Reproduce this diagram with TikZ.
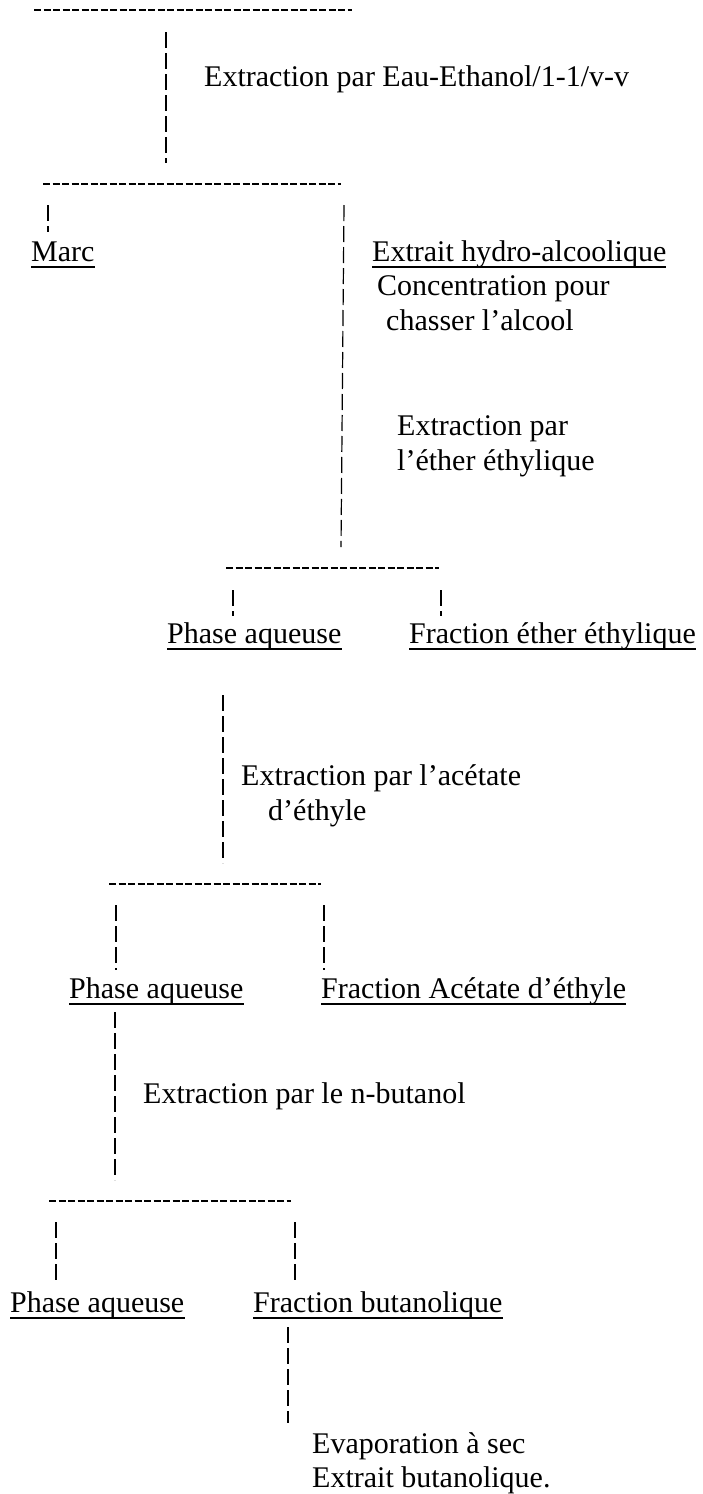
\documentclass[tikz,border=0pt]{standalone}
\usepackage{fontspec}
\setmainfont{Liberation Serif}
\begin{document}
\begin{tikzpicture}[x=1pt,y=-1pt,
  lbl/.style={anchor=base west,inner sep=0pt,font=\fontsize{30}{34}\selectfont},
  hdash/.style={line width=1.8pt,dash pattern=on 7pt off 2.5pt},
  vdash/.style={line width=1.2pt,dash pattern=on 16pt off 5pt},
  uline/.style={line width=1.3pt}]
\useasboundingbox (0,0) rectangle (703,1494);
% texts
\node[lbl] (t0) at (204,86) {Extraction par Eau-Ethanol/1-1/v-v};
\node[lbl] (marc) at (31,261) {Marc};
\node[lbl] (hydro) at (372,261) {Extrait hydro-alcoolique};
\node[lbl] (conc1) at (377,295) {Concentration pour};
\node[lbl] (conc2) at (386,330) {chasser l’alcool};
\node[lbl] (ext1) at (397,435) {Extraction par};
\node[lbl] (ext2) at (397,470) {l’éther éthylique};
\node[lbl] (pa1) at (167,643) {Phase aqueuse};
\node[lbl] (fee) at (409,643) {Fraction éther éthylique};
\node[lbl] (ac1) at (241,785) {Extraction par l’acétate};
\node[lbl] (ac2) at (268,820) {d’éthyle};
\node[lbl] (pa2) at (69,998) {Phase aqueuse};
\node[lbl] (fac) at (321,998) {Fraction Acétate d’éthyle};
\node[lbl] (bu) at (143,1103) {Extraction par le n-butanol};
\node[lbl] (pa3) at (10,1312) {Phase aqueuse};
\node[lbl] (fbu) at (253,1312) {Fraction butanolique};
\node[lbl] (ev1) at (312,1453) {Evaporation à sec};
\node[lbl] (ev2) at (312,1487) {Extrait butanolique.};
% underlines
\foreach \n in {marc,hydro,pa1,fee,pa2,fac,pa3,fbu}
  \draw[uline] ([yshift=-6pt]\n.base west) -- ([yshift=-6pt]\n.base east);
% coordinates of the tree
\coordinate (l0a) at (34,10);   \coordinate (l0b) at (352,10);
\coordinate (v0a) at (166,32);  \coordinate (v0b) at (166,163);
\coordinate (l1a) at (43,184);  \coordinate (l1b) at (341,184);
\coordinate (vma) at (48,205);  \coordinate (vmb) at (48,232);
\coordinate (v1a) at (344,205); \coordinate (v1b) at (341,547);
\coordinate (l2a) at (226,568); \coordinate (l2b) at (439,568);
\coordinate (v2la) at (233,590); \coordinate (v2lb) at (233,616);
\coordinate (v2ra) at (441,590); \coordinate (v2rb) at (441,616);
\coordinate (v2a) at (223,695); \coordinate (v2b) at (223,863);
\coordinate (l3a) at (109,884); \coordinate (l3b) at (321,884);
\coordinate (v3la) at (116,905); \coordinate (v3lb) at (116,970);
\coordinate (v3ra) at (324,905); \coordinate (v3rb) at (324,970);
\coordinate (v3a) at (115,1012); \coordinate (v3b) at (115,1180);
\coordinate (l4a) at (49,1201); \coordinate (l4b) at (291,1201);
\coordinate (v4la) at (56,1222); \coordinate (v4lb) at (56,1283);
\coordinate (v4ra) at (295,1222); \coordinate (v4rb) at (295,1283);
\coordinate (v4a) at (288,1327); \coordinate (v4b) at (288,1423);
% horizontal dashed lines
\draw[hdash] (l0a) -- (l0b);
\draw[hdash] (l1a) -- (l1b);
\draw[hdash] (l2a) -- (l2b);
\draw[hdash] (l3a) -- (l3b);
\draw[hdash] (l4a) -- (l4b);
% vertical dashed lines
\draw[vdash] (v0a) -- (v0b);
\draw[vdash] (vma) -- (vmb);
\draw[vdash] (v1a) -- (v1b);
\draw[vdash] (v2la) -- (v2lb);
\draw[vdash] (v2ra) -- (v2rb);
\draw[vdash] (v2a) -- (v2b);
\draw[vdash] (v3la) -- (v3lb);
\draw[vdash] (v3ra) -- (v3rb);
\draw[vdash] (v3a) -- (v3b);
\draw[vdash] (v4la) -- (v4lb);
\draw[vdash] (v4ra) -- (v4rb);
\draw[vdash] (v4a) -- (v4b);
\end{tikzpicture}
\end{document}
